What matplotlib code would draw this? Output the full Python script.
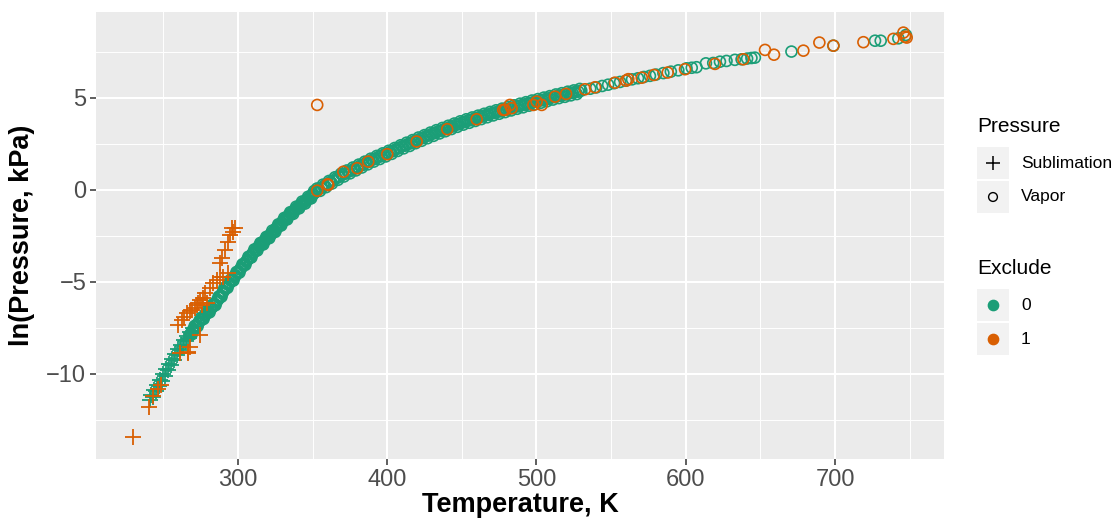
import matplotlib
matplotlib.use("Agg")
import matplotlib.pyplot as plt
from matplotlib.patches import Rectangle

plt.rcParams['font.family'] = ['Liberation Sans', 'DejaVu Sans']

GREEN = '#1B9E77'
ORANGE = '#D95F02'

# sublimation pressure, kept points (Exclude = 0)
sub_T_0 = [241.0, 242.0, 243.0, 244.0, 245.0, 246.0, 247.0, 248.0, 249.0, 250.0,
           251.0, 252.0, 253.0, 254.0, 255.0, 256.0, 257.0, 258.0, 259.0, 260.0,
           261.0, 262.0, 263.0, 264.0, 265.0, 266.0, 267.0, 268.0, 269.0, 270.0]
sub_lnP_0 = [-11.40, -11.12, -11.25, -10.88, -10.95, -10.60, -10.68, -10.30, -10.38, -10.02,
             -10.10, -9.72, -9.80, -9.45, -9.52, -9.18, -9.25, -8.92, -8.98, -8.66,
             -8.72, -8.40, -8.46, -8.17, -8.22, -7.95, -8.02, -7.73, -7.80, -7.52]

# sublimation pressure, excluded points (Exclude = 1)
sub_T_1 = [229.9, 240.4, 243.0, 246.6, 248.4, 261.1, 266.5, 267.8, 274.5, 260.0,
           262.3, 263.8, 265.6, 267.8, 269.0, 271.2, 272.3, 273.4, 274.5, 275.7,
           276.8, 277.9, 279.0, 281.2, 283.5, 285.7, 287.9, 290.2, 293.5, 287.9,
           289.1, 291.3, 293.5, 294.6, 295.8, 298.0, 296.9, 266.7]
sub_lnP_1 = [-13.44, -11.82, -11.20, -10.82, -10.60, -8.86, -8.80, -8.53, -7.88, -7.34,
             -7.07, -6.90, -6.70, -6.58, -6.52, -6.43, -6.25, -6.16, -5.98, -6.25,
             -5.89, -5.61, -6.16, -5.34, -5.07, -4.89, -4.71, -4.71, -4.53, -3.98,
             -3.71, -3.26, -2.81, -2.45, -2.08, -2.08, -2.27, -8.88]

# vapour pressure, kept points (Exclude = 0)
vap_T_0 = [268, 270, 272, 274, 276, 278, 280, 282, 284, 286,
           288, 290, 292, 294, 296, 298, 300, 302, 304, 306,
           308, 310, 312, 314, 316, 318, 320, 322, 324, 326,
           328, 330, 332, 334, 336, 338, 340, 342, 344, 346,
           348, 350, 352, 354, 356, 358, 360, 362, 364, 366,
           368, 370, 372, 374, 376, 378, 380, 382, 384, 386,
           388, 390, 392, 394, 396, 398, 400, 402, 404, 406,
           408, 410, 412, 414, 416, 418, 420, 422, 424, 426,
           428, 430, 432, 434, 436, 438, 440, 442, 444, 446,
           448, 450, 452, 454, 456, 458, 460, 462, 464, 466,
           468, 470, 472, 474, 476, 478, 480, 482, 484, 486,
           488, 490, 492, 494, 496, 498, 500, 502, 504, 506,
           508, 510, 512, 514, 516, 518, 520, 522, 524, 526,
           528, 530, 536, 540, 544, 548, 552, 556, 560, 564,
           568, 572, 576, 580, 585, 590, 595, 600.5, 604, 607.2,
           613.5, 618.4, 622.9, 627.3, 632.9, 637.4, 641.1, 644, 646.3, 670.8,
           698.9, 726.8, 730.6, 742.4, 747.5]
vap_lnP_0 = [-7.85, -7.60, -7.42, -7.16, -6.99, -6.78, -6.63, -6.42, -6.26, -6.01,
             -5.82, -5.53, -5.31, -5.08, -4.91, -4.67, -4.49, -4.24, -4.06, -3.83,
             -3.66, -3.43, -3.26, -3.06, -2.93, -2.73, -2.59, -2.40, -2.26, -2.05,
             -1.91, -1.70, -1.56, -1.38, -1.26, -1.08, -0.96, -0.79, -0.69, -0.53,
             -0.43, -0.24, -0.11, 0.04, 0.11, 0.24, 0.31, 0.44, 0.51, 0.64,
             0.71, 0.83, 0.89, 1.00, 1.05, 1.16, 1.21, 1.32, 1.37, 1.49,
             1.54, 1.64, 1.69, 1.79, 1.83, 1.93, 1.97, 2.07, 2.11, 2.22,
             2.27, 2.37, 2.41, 2.50, 2.54, 2.65, 2.69, 2.78, 2.82, 2.92,
             2.96, 3.05, 3.09, 3.18, 3.21, 3.30, 3.33, 3.42, 3.45, 3.54,
             3.57, 3.66, 3.69, 3.77, 3.79, 3.87, 3.89, 3.97, 3.99, 4.07,
             4.09, 4.17, 4.18, 4.26, 4.27, 4.35, 4.36, 4.44, 4.45, 4.53,
             4.54, 4.61, 4.62, 4.70, 4.71, 4.78, 4.79, 4.86, 4.87, 4.94,
             4.95, 5.03, 5.04, 5.11, 5.12, 5.18, 5.19, 5.26, 5.27, 5.33,
             5.34, 5.40, 5.50, 5.57, 5.65, 5.72, 5.80, 5.87, 5.94, 6.01,
             6.07, 6.14, 6.20, 6.27, 6.35, 6.43, 6.50, 6.61, 6.64, 6.67,
             6.88, 6.90, 6.97, 7.01, 7.07, 7.10, 7.14, 7.17, 7.19, 7.52,
             7.84, 8.11, 8.11, 8.24, 8.42]

# second run of kept vapour readings (odd temperatures)
vap_T_0b = [269, 271, 273, 275, 277, 279, 281, 283, 285, 287,
            289, 291, 293, 295, 297, 299, 301, 303, 305, 307,
            309, 311, 313, 315, 317, 319, 321, 323, 325, 327,
            329, 331, 333, 335, 337, 339, 341, 343, 345, 347,
            349, 351, 353, 355, 357, 359, 361, 363, 365, 367,
            369, 371, 373, 375, 377, 379, 381, 383, 385, 387,
            389, 391, 393, 395, 397, 399, 401, 403, 405, 407,
            409, 411, 413, 415, 417, 419, 421, 423, 425, 427,
            429, 431, 433, 435, 437, 439, 441, 443, 445, 447,
            449, 451, 453, 455, 457, 459, 461, 463, 465, 467,
            469, 471, 473, 475, 477, 479, 481, 483, 485, 487,
            489, 491, 493, 495, 497, 499, 501, 503, 505, 507,
            509, 511, 513, 515, 517, 519, 521, 523, 525, 527,
            529]
vap_lnP_0b = [-7.85, -7.39, -7.41, -6.96, -7.01, -6.59, -6.65, -6.23, -6.26, -5.80,
              -5.80, -5.31, -5.32, -4.88, -4.92, -4.46, -4.49, -4.04, -4.07, -3.63,
              -3.67, -3.23, -3.29, -2.88, -2.96, -2.55, -2.62, -2.21, -2.28, -1.87,
              -1.93, -1.52, -1.60, -1.21, -1.30, -0.91, -1.00, -0.63, -0.74, -0.37,
              -0.46, -0.06, 0.08, -0.05, 0.29, 0.15, 0.49, 0.35, 0.69, 0.55,
              0.88, 0.73, 1.06, 0.90, 1.22, 1.06, 1.38, 1.22, 1.54, 1.39,
              1.70, 1.54, 1.85, 1.68, 1.99, 1.82, 2.13, 1.96, 2.28, 2.12,
              2.43, 2.26, 2.57, 2.39, 2.71, 2.54, 2.85, 2.67, 2.98, 2.81,
              3.12, 2.94, 3.25, 3.07, 3.37, 3.19, 3.49, 3.31, 3.61, 3.43,
              3.73, 3.55, 3.84, 3.65, 3.94, 3.75, 4.04, 3.85, 4.14, 3.95,
              4.24, 4.05, 4.33, 4.14, 4.42, 4.23, 4.51, 4.32, 4.60, 4.41,
              4.69, 4.49, 4.77, 4.58, 4.86, 4.66, 4.94, 4.74, 5.02, 4.82,
              5.10, 4.91, 5.19, 4.99, 5.26, 5.06, 5.34, 5.14, 5.41, 5.21,
              5.49]

# third run of kept vapour readings, steep part of the curve
vap_T_0c = [268.5, 269.5, 270.5, 271.5, 272.5, 273.5, 274.5, 275.5, 276.5, 277.5,
            278.5, 279.5, 280.5, 281.5, 282.5, 283.5, 284.5, 285.5, 286.5, 287.5,
            288.5, 289.5, 290.5, 291.5, 292.5, 293.5, 294.5, 295.5, 296.5, 297.5,
            298.5, 299.5, 300.5, 301.5, 302.5, 303.5, 304.5, 305.5, 306.5, 307.5,
            308.5, 309.5, 310.5, 311.5, 312.5, 313.5, 314.5, 315.5, 316.5, 317.5,
            318.5, 319.5, 320.5, 321.5, 322.5, 323.5, 324.5, 325.5, 326.5, 327.5,
            328.5, 329.5, 330.5, 331.5, 332.5, 333.5, 334.5, 335.5, 336.5, 337.5,
            338.5, 339.5, 340.5, 341.5, 342.5, 343.5, 344.5, 345.5, 346.5, 347.5,
            348.5, 349.5, 350.5, 351.5]
vap_lnP_0c = [-7.80, -7.66, -7.56, -7.46, -7.35, -7.23, -7.13, -7.04, -6.94, -6.84,
              -6.75, -6.67, -6.58, -6.48, -6.40, -6.30, -6.20, -6.09, -5.98, -5.86,
              -5.74, -5.62, -5.49, -5.37, -5.25, -5.15, -5.05, -4.95, -4.85, -4.74,
              -4.64, -4.53, -4.43, -4.32, -4.21, -4.10, -4.00, -3.90, -3.80, -3.70,
              -3.60, -3.50, -3.40, -3.30, -3.21, -3.12, -3.04, -2.96, -2.88, -2.79,
              -2.71, -2.62, -2.54, -2.46, -2.38, -2.29, -2.21, -2.12, -2.03, -1.94,
              -1.86, -1.77, -1.68, -1.60, -1.52, -1.44, -1.36, -1.29, -1.22, -1.14,
              -1.06, -0.99, -0.92, -0.85, -0.78, -0.71, -0.65, -0.58, -0.52, -0.45,
              -0.38, -0.30, -0.22, -0.14]

# vapour pressure, excluded points (Exclude = 1)
vap_T_1 = [353.1, 353.1, 360.1, 360.5, 370.6, 379.9, 387.3, 400.0, 419.7, 440.2,
           459.9, 477.7, 478.9, 482.2, 483.3, 497.9, 500.1, 503.5, 512.4, 519.8,
           532.5, 539.2, 552.6, 560.0, 561.5, 570.5, 578.7, 587.9, 599.5, 619.6,
           638.6, 653.1, 659.1, 678.8, 689.5, 698.9, 719.0, 739.1, 745.8, 746.9,
           748.0]
vap_lnP_1 = [4.62, -0.04, 0.31, 0.27, 0.99, 1.18, 1.54, 1.94, 2.63, 3.30,
             3.84, 4.35, 4.35, 4.62, 4.44, 4.62, 4.80, 4.62, 5.07, 5.22,
             5.47, 5.58, 5.83, 5.94, 6.02, 6.10, 6.25, 6.38, 6.56, 6.85,
             7.10, 7.61, 7.35, 7.57, 8.01, 7.84, 8.03, 8.21, 8.55, 8.33,
             8.28]

fig = plt.figure(figsize=(11.13, 5.19), dpi=100)
ax = fig.add_axes([96 / 1113, 1 - 459 / 519, 848 / 1113, 447 / 519])
ax.set_facecolor('#EBEBEB')
for s in ax.spines.values():
    s.set_visible(False)

ax.set_xlim(204.9, 773.0)
ax.set_ylim(-14.62, 9.67)
ax.set_xticks([300, 400, 500, 600, 700])
ax.set_yticks([-10, -5, 0, 5])
ax.set_yticklabels(['\u221210', '\u22125', '0', '5'])
ax.set_xticks([250, 350, 450, 550, 650, 750], minor=True)
ax.set_yticks([-12.5, -7.5, -2.5, 2.5, 7.5], minor=True)
ax.grid(which='major', color='white', linewidth=1.5)
ax.grid(which='minor', color='white', linewidth=0.7)
ax.set_axisbelow(True)
ax.tick_params(which='major', length=4, width=1.1, color='#333333',
               labelsize=17, labelcolor='#4D4D4D', pad=3)
ax.tick_params(which='minor', length=0)

circ = dict(marker='o', s=62, facecolors='none', linewidths=1.2)
plus = dict(marker='+', s=130, linewidths=1.3)
ax.scatter(sub_T_0, sub_lnP_0, color=GREEN, **plus)
ax.scatter(vap_T_0 + vap_T_0b + vap_T_0c, vap_lnP_0 + vap_lnP_0b + vap_lnP_0c,
           edgecolors=GREEN, **circ)
ax.scatter(sub_T_1, sub_lnP_1, color=ORANGE, **plus)
ax.scatter(vap_T_1, vap_lnP_1, edgecolors=ORANGE, **circ)

ax.set_xlabel('Temperature, K', fontsize=19.5, fontweight='bold', labelpad=1)
ax.set_ylabel('ln(Pressure, kPa)', fontsize=19.5, fontweight='bold', labelpad=8)

# legends drawn by hand in pixel space
lg = fig.add_axes([0, 0, 1, 1])
lg.set_xlim(0, 1113)
lg.set_ylim(519, 0)
lg.axis('off')
lg.patch.set_alpha(0)

lg.text(977, 127, 'Pressure', fontsize=15, va='center', ha='left')
lg.text(977, 268, 'Exclude', fontsize=15, va='center', ha='left')
for y0 in (147, 181, 289, 323):
    lg.add_patch(Rectangle((977, y0), 32, 32, facecolor='#F2F2F2', edgecolor='none'))
lg.scatter([993], [163], marker='+', s=110, color='black', linewidths=1.1)
lg.scatter([993], [197], marker='o', s=40, facecolors='none', edgecolors='black', linewidths=1.0)
lg.scatter([993], [305], marker='o', s=55, color=GREEN)
lg.scatter([993], [339], marker='o', s=55, color=ORANGE)
for y, t in ((163, 'Sublimation'), (197, 'Vapor'), (305, '0'), (339, '1')):
    lg.text(1021, y, t, fontsize=12.5, va='center', ha='left')

fig.savefig('out.png', dpi=100)
